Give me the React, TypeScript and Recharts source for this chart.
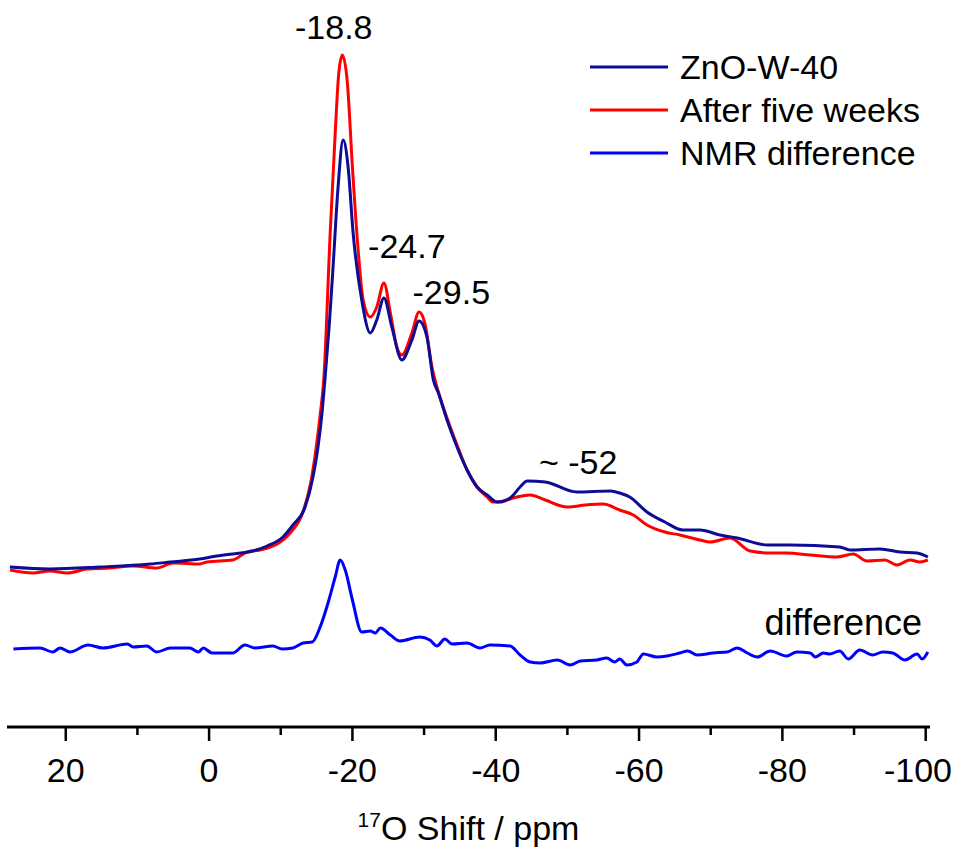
import { LineChart, Line, XAxis, YAxis, Legend, ReferenceDot } from 'recharts';

// [shift (ppm), intensity (a.u.)]
const znoTrace = [
  [27.8, 160], [22.2, 158], [15.2, 160], [8.2, 163], [5.4, 165], [1.3, 168], [-1.1, 171],
  [-3.3, 173], [-6.1, 176], [-8.1, 181], [-10.3, 190], [-11.7, 202], [-13.4, 220], [-14.5, 250],
  [-15.2, 280], [-15.8, 317], [-16.2, 350], [-16.8, 405], [-17.3, 460], [-18.0, 540], [-18.7, 587],
  [-19.4, 560], [-20.1, 494], [-21.3, 427], [-22.5, 394], [-23.4, 407], [-24.4, 429], [-25.5, 400],
  [-26.9, 367], [-28.3, 387], [-29.3, 406], [-30.4, 390], [-31.3, 347], [-32.0, 334], [-33.2, 307],
  [-34.6, 280], [-36.0, 257], [-37.4, 240], [-38.8, 232], [-40.2, 225], [-42.0, 229], [-43.4, 240],
  [-44.4, 246], [-46.9, 245], [-51.3, 235], [-56.0, 236], [-57.3, 234], [-58.7, 230], [-61.1, 215],
  [-63.6, 205], [-66.1, 197], [-68.5, 197], [-71.3, 192], [-73.7, 189], [-77.9, 182], [-81.1, 182],
  [-88.0, 180], [-89.4, 177], [-93.6, 178], [-96.4, 175], [-98.8, 174], [-100.3, 170],
];

const agedTrace = [
  [27.8, 157], [24.6, 154], [22.2, 156], [19.8, 154], [17.0, 158], [13.8, 159], [10.6, 161],
  [7.3, 159], [5.0, 164], [1.3, 163], [0.3, 165], [-3.3, 167], [-5.3, 175], [-7.1, 177],
  [-9.5, 183], [-11.3, 194], [-13.1, 215], [-14.2, 245], [-14.9, 277], [-15.5, 312], [-16.0, 347],
  [-16.9, 494], [-17.6, 594], [-18.1, 654], [-18.6, 672], [-19.3, 644], [-20.0, 560], [-20.8, 477],
  [-21.5, 427], [-22.5, 410], [-23.4, 420], [-24.4, 444], [-25.3, 414], [-26.2, 380], [-26.9, 372],
  [-28.3, 394], [-29.3, 415], [-30.1, 404], [-31.1, 360], [-32.0, 335], [-33.2, 309], [-34.6, 282],
  [-36.0, 257], [-37.4, 240], [-38.8, 230], [-39.6, 225], [-40.6, 225], [-42.4, 229], [-44.8, 232],
  [-46.9, 227], [-50.0, 220], [-52.5, 222], [-55.0, 223], [-57.3, 217], [-59.2, 212], [-61.1, 202],
  [-63.6, 195], [-65.7, 192], [-68.5, 187], [-69.9, 185], [-72.7, 189], [-75.5, 176], [-78.3, 174],
  [-80.6, 174], [-83.9, 172], [-87.6, 170], [-89.9, 173], [-91.8, 166], [-94.3, 167], [-96.0, 162],
  [-97.8, 167], [-99.2, 165], [-100.3, 167],
];

const diffTrace = [
  [27.3, 78], [23.6, 79], [21.8, 75], [20.8, 79], [19.4, 75], [16.9, 82], [14.8, 79], [11.4, 83],
  [10.6, 80], [8.7, 81], [7.3, 75], [5.4, 79], [2.7, 79], [1.5, 75], [0.8, 79], [-0.4, 74],
  [-3.3, 74], [-5.0, 82], [-6.4, 79], [-8.9, 81], [-10.2, 78], [-11.7, 79], [-13.1, 84], [-14.4, 85],
  [-15.5, 100], [-16.6, 124], [-17.6, 150], [-18.3, 167], [-19.0, 157], [-20.0, 127], [-21.3, 95],
  [-22.5, 96], [-23.2, 94], [-23.9, 99], [-25.3, 92], [-26.6, 86], [-29.4, 90], [-30.8, 87],
  [-31.8, 81], [-32.9, 88], [-33.9, 83], [-36.0, 84], [-37.8, 79], [-39.2, 82], [-42.0, 81],
  [-43.4, 72], [-44.8, 65], [-46.2, 64], [-48.6, 67], [-50.4, 62], [-51.8, 66], [-54.1, 67],
  [-55.5, 69], [-56.6, 65], [-57.3, 68], [-58.3, 62], [-59.7, 65], [-60.6, 73], [-62.5, 70],
  [-63.9, 71], [-65.7, 74], [-66.8, 76], [-68.1, 72], [-70.3, 74], [-72.3, 75], [-73.7, 79],
  [-75.1, 74], [-76.5, 70], [-78.3, 76], [-80.6, 71], [-82.0, 75], [-83.9, 74], [-84.6, 70],
  [-85.7, 74], [-86.6, 73], [-88.0, 76], [-89.2, 68], [-90.8, 77], [-92.6, 72], [-94.0, 75],
  [-95.4, 74], [-97.1, 67], [-98.8, 73], [-99.5, 68], [-100.3, 75],
];

const shiftTicks = [20, 10, 0, -10, -20, -30, -40, -50, -60, -70, -80, -90, -100];

const seriesNames = ['ZnO-W-40', 'After five weeks', 'NMR difference'];
const seriesColors = ['#0c0c96', '#ff0000', '#0000ff'];

// peak annotations: [label, shift, intensity]
const peakLabels = [
  ['-18.8', -17.4, 700],
  ['-24.7', -27.6, 481],
  ['-29.5', -33.8, 435],
  ['~ -52', -51.5, 265],
  ['difference', -88.5, 105],
];

const FONT = '"Liberation Sans", Arial, sans-serif';

const toRows = (trace: number[][]) => trace.map(([shift, value]) => ({ shift, value }));

function ShiftTick(props: any) {
  const { x, y, payload } = props;
  const major = payload.value % 20 === 0;
  // keep the last label inside the page
  const labelX = Math.min(x, 954 - 36);
  return (
    <g>
      <line x1={x} x2={x} y1={y} y2={y + (major ? 14 : 8)} stroke="#000" strokeWidth={2.5} />
      {major && (
        <text x={labelX} y={y + 55} textAnchor="middle" fontSize={34} fontFamily={FONT} fill="#000">
          {payload.value}
        </text>
      )}
    </g>
  );
}

function AxisTitle(props: any) {
  const { viewBox } = props;
  const cx = viewBox.x + viewBox.width / 2;
  return (
    <text x={cx} y={viewBox.y + 113} textAnchor="middle" fontFamily={FONT} fill="#000">
      <tspan fontSize={21} dy={-13}>17</tspan>
      <tspan fontSize={34} dy={13}>O Shift / ppm</tspan>
    </text>
  );
}

function LegendBox() {
  return (
    <svg width={360} height={130}>
      {seriesNames.map((name, i) => (
        <g key={name}>
          <line x1={5} x2={83} y1={22 + i * 43} y2={22 + i * 43} stroke={seriesColors[i]} strokeWidth={3} />
          <text x={95} y={34 + i * 43} fontSize={34} fontFamily={FONT} fill="#000">{name}</text>
        </g>
      ))}
    </svg>
  );
}

export default function App() {
  const znoRows = toRows(znoTrace);
  const agedRows = toRows(agedTrace);
  const diffRows = toRows(diffTrace);

  return (
    <div style={{ position: 'absolute', left: 0, top: 0, width: 954, height: 854, background: '#fff' }}>
      <LineChart width={954} height={854} margin={{ top: 0, right: 24, bottom: 0, left: 7 }}>
        <XAxis
          dataKey="shift"
          type="number"
          domain={[-100.6, 28.2]}
          reversed
          allowDataOverflow
          ticks={shiftTicks}
          interval={0}
          height={127}
          tickSize={0}
          tickMargin={0}
          tickLine={false}
          tick={<ShiftTick />}
          axisLine={{ stroke: '#000', strokeWidth: 3 }}
          label={<AxisTitle />}
        />
        <YAxis hide width={0} domain={[0, 727]} type="number" allowDataOverflow />
        <Legend
          layout="vertical"
          align="center"
          verticalAlign="middle"
          wrapperStyle={{ left: 585, top: 45, width: 360 }}
          content={() => <LegendBox />}
        />
        <Line data={agedRows} dataKey="value" type="monotone" stroke={seriesColors[1]} strokeWidth={3} dot={false} isAnimationActive={false} />
        <Line data={znoRows} dataKey="value" type="monotone" stroke={seriesColors[0]} strokeWidth={3} dot={false} isAnimationActive={false} />
        <Line data={diffRows} dataKey="value" type="monotone" stroke={seriesColors[2]} strokeWidth={3} dot={false} isAnimationActive={false} />
        {peakLabels.map(([text, shift, value]) => (
          <ReferenceDot
            key={text as string}
            x={shift as number}
            y={value as number}
            r={0}
            fill="none"
            stroke="none"
            label={{
              value: text,
              position: 'center',
              fontSize: text === 'difference' ? 36 : 34,
              fontFamily: FONT,
              fill: '#000',
            }}
          />
        ))}
      </LineChart>
    </div>
  );
}
